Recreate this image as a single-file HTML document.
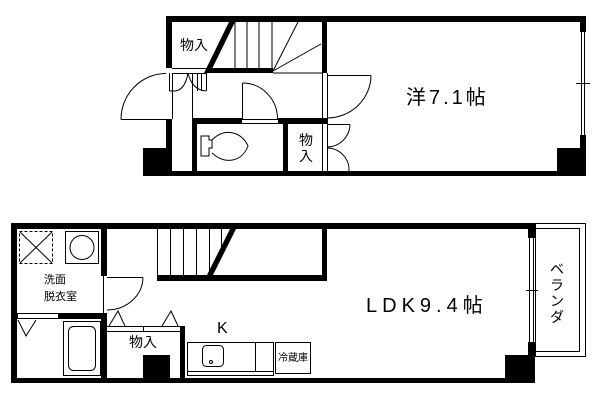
<!DOCTYPE html>
<html><head><meta charset="utf-8"><style>
html,body{margin:0;padding:0;background:#fff;width:600px;height:400px;overflow:hidden}
text{font-family:"Liberation Sans","Noto Sans CJK JP",sans-serif;fill:#000}
</style></head><body>
<svg width="600" height="400" viewBox="0 0 600 400" xmlns="http://www.w3.org/2000/svg">
<g fill="#000" stroke="none">
<!-- top unit walls -->
<rect x="166" y="16" width="420" height="6"/>
<rect x="166" y="171" width="420" height="5"/>
<rect x="166" y="16" width="6" height="52"/>
<rect x="166" y="119" width="6" height="57"/>
<rect x="143" y="148" width="23" height="28"/>
<rect x="580" y="16" width="6" height="16"/>
<rect x="580" y="135" width="6" height="41"/>
<rect x="557" y="148" width="23" height="28"/>
<rect x="322" y="16" width="5" height="57"/>
<rect x="207" y="68" width="66" height="5"/>
<polygon points="229,22 235,22 210,73 204,73"/>
<rect x="192" y="118" width="50" height="6"/>
<rect x="278" y="118" width="49" height="6"/>
<rect x="192" y="118" width="5" height="58"/>
<rect x="283" y="118" width="5" height="58"/>
<rect x="322" y="118" width="5" height="6"/>
<!-- bottom unit walls -->
<rect x="11" y="223" width="524" height="6"/>
<rect x="11" y="378" width="524" height="5"/>
<rect x="11" y="223" width="6" height="160"/>
<rect x="528" y="223" width="7" height="15"/>
<rect x="528" y="342" width="7" height="41"/>
<rect x="505" y="355" width="23" height="28"/>
<rect x="322" y="223" width="5" height="58"/>
<rect x="157" y="275" width="170" height="6"/>
<polygon points="230,229 236,229 213,275 207,275"/>
<rect x="101" y="229" width="6" height="47"/>
<rect x="101" y="313" width="6" height="70"/>
<rect x="58" y="313" width="49" height="6"/>
<rect x="180" y="326" width="5" height="57"/>
<rect x="143" y="355" width="27" height="28"/>
</g>
<g fill="none" stroke="#000" stroke-width="1">
<!-- top stairs -->
<line x1="235" y1="22" x2="235" y2="68"/><line x1="247" y1="22" x2="247" y2="68"/>
<line x1="259" y1="22" x2="259" y2="68"/><line x1="272" y1="22" x2="272" y2="68"/>
<line x1="273" y1="71" x2="298" y2="22"/><line x1="273" y1="71" x2="321" y2="44"/>
<line x1="273" y1="73" x2="322" y2="73"/>
<!-- entrance -->
<line x1="172" y1="68.5" x2="207" y2="68.5"/><line x1="172" y1="73.5" x2="207" y2="73.5"/>
<line x1="121" y1="119.5" x2="166" y2="119.5"/>
<path d="M121,119.5 A45,46 0 0 1 166,73.5"/>
<line x1="172.5" y1="73" x2="172.5" y2="119"/><line x1="192.5" y1="73" x2="192.5" y2="119"/>
<line x1="197.5" y1="73" x2="197.5" y2="91"/><line x1="201.5" y1="73" x2="201.5" y2="91"/>
<line x1="169.5" y1="73" x2="169.5" y2="91"/><line x1="169.5" y1="91" x2="175" y2="91"/>
<path d="M175,91 Q185,90 188,73"/><path d="M188,73 Q192,90 206,91"/>
<line x1="206.5" y1="73" x2="206.5" y2="91"/>
<!-- toilet door -->
<line x1="242" y1="119.5" x2="278" y2="119.5"/><line x1="242" y1="123.5" x2="278" y2="123.5"/>
<line x1="242.5" y1="83" x2="242.5" y2="119"/>
<path d="M242.5,83 A35,36 0 0 1 277.5,119"/>
<!-- toilet -->
<path d="M201,136 h8 v4 h3 v8 h-3 v8 h-8 z"/>
<path d="M212,140 C225,127 242,132 248,146 C242,162 225,165 212,153"/>
<!-- right side doors -->
<line x1="322.5" y1="73" x2="322.5" y2="171"/><line x1="327.5" y1="73" x2="327.5" y2="171"/>
<line x1="327" y1="75.5" x2="371" y2="75.5"/>
<path d="M371,75.5 A44,43 0 0 1 327,118"/>
<line x1="327" y1="124.5" x2="350" y2="124.5"/>
<path d="M350,124.5 A23,23 0 0 1 327,147"/>
<path d="M327,148 A22,22 0 0 1 349,171"/>
<!-- top window -->
<line x1="581.5" y1="32" x2="581.5" y2="135"/><line x1="584.5" y1="32" x2="584.5" y2="135"/>
<line x1="576" y1="83.5" x2="590" y2="83.5"/>
<!-- bottom stairs -->
<line x1="170.5" y1="229" x2="170.5" y2="275"/><line x1="183.5" y1="229" x2="183.5" y2="275"/>
<line x1="196.5" y1="229" x2="196.5" y2="275"/><line x1="209.5" y1="229" x2="209.5" y2="275"/>
<line x1="221.5" y1="229" x2="221.5" y2="255"/>
<line x1="157.5" y1="229" x2="157.5" y2="275"/>
<!-- washroom -->
<rect x="19.5" y="231.5" width="33" height="32" stroke-dasharray="3,2"/>
<line x1="20" y1="232" x2="52" y2="263"/><line x1="52" y1="232" x2="20" y2="263"/>
<rect x="65.5" y="231.5" width="33" height="32"/>
<circle cx="82" cy="247.5" r="12"/>
<line x1="103.5" y1="276" x2="103.5" y2="313"/>
<line x1="107" y1="277.5" x2="143" y2="277.5"/>
<path d="M143,277.5 A36,33 0 0 1 107,310"/>
<rect x="17.5" y="313.5" width="41" height="5"/>
<polyline points="18,320 26,336 36,320"/>
<rect x="63.5" y="321.5" width="37" height="54"/>
<rect x="68.5" y="326.5" width="27" height="44" rx="5"/>
<!-- storage doors -->
<line x1="107" y1="326.5" x2="180" y2="326.5"/><line x1="107" y1="331.5" x2="180" y2="331.5"/>
<line x1="143.5" y1="326" x2="143.5" y2="331"/>
<polyline points="109,326 118,311 125,326"/>
<polyline points="162,326 171,311 178,326"/>
<!-- kitchen -->
<rect x="187.5" y="342.5" width="86" height="33"/>
<line x1="187" y1="371.5" x2="273" y2="371.5"/>
<line x1="255.5" y1="342" x2="255.5" y2="371"/>
<rect x="202.5" y="345.5" width="21" height="21" rx="4"/>
<circle cx="211" cy="362" r="1.5"/>
<rect x="275.5" y="342.5" width="35" height="31"/>
<!-- bottom window & balcony -->
<line x1="529.5" y1="238" x2="529.5" y2="342"/><line x1="533.5" y1="238" x2="533.5" y2="342"/>
<line x1="526" y1="290.5" x2="538" y2="290.5"/>
<rect x="535.5" y="223.5" width="50" height="133"/>
<rect x="535.5" y="228.5" width="44" height="123"/>
</g>
<g>
<text x="180" y="50" font-size="14">物入</text>
<text x="299" y="145" font-size="14">物</text>
<text x="299" y="161" font-size="14">入</text>
<text x="406" y="104" font-size="20" letter-spacing="3">洋7.1帖</text>
<text x="44" y="283" font-size="11">洗面</text>
<text x="44" y="300" font-size="11">脱衣室</text>
<text x="129" y="347" font-size="14">物入</text>
<text x="217" y="333" font-size="16">K</text>
<text x="278" y="361" font-size="10">冷蔵庫</text>
<text x="366" y="312" font-size="20" letter-spacing="5">LDK9.4帖</text>
<text x="550" y="274" font-size="14">ベ</text>
<text x="550" y="290" font-size="14">ラ</text>
<text x="550" y="306" font-size="14">ン</text>
<text x="550" y="322" font-size="14">ダ</text>
</g>
</svg>
</body></html>
